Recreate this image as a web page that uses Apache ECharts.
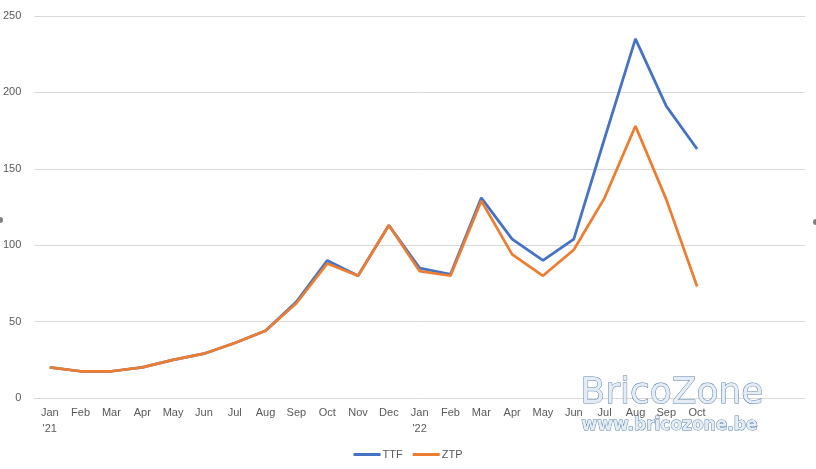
<!DOCTYPE html>
<html>
<head>
<meta charset="utf-8">
<script src="https://cdn.jsdelivr.net/npm/echarts@6/dist/echarts.min.js"></script>
<style>
  html, body { margin: 0; padding: 0; background: #fff; }
  #chart { width: 816px; height: 469px; }
</style>
</head>
<body>
<div id="chart"></div>
<script>
// months Jan '21 .. Oct '22, plus three empty slots on the right
var months = ['Jan\n\'21', 'Feb', 'Mar', 'Apr', 'May', 'Jun', 'Jul', 'Aug', 'Sep', 'Oct', 'Nov', 'Dec',
              'Jan\n\'22', 'Feb', 'Mar', 'Apr', 'May', 'Jun', 'Jul', 'Aug', 'Sep', 'Oct', '', '', ''];
var ttf = [20, 17.5, 17.5, 20, 25, 29, 36, 44, 63, 90, 80, 113,
           85, 81, 131, 104, 90, 104, 170, 235, 191, 163];
var ztp = [20, 17.5, 17.5, 20, 25, 29, 36, 44, 62, 88, 80, 113,
           83, 80, 129, 94, 80, 97, 131, 178, 130, 73];

var chart = echarts.init(document.getElementById('chart'));
var txt = '#595959';

var option = {
    animation: false,
    grid: { left: 33, right: 11, top: 16, bottom: 71, containLabel: false },
    legend: {
        bottom: 4,
        left: 'center',
        itemWidth: 27,
        itemHeight: 3,
        itemGap: 10,
        icon: 'rect',
        textStyle: { color: txt, fontSize: 11, fontFamily: 'Liberation Sans', padding: [0, 0, 0, -3] },
        data: ['TTF', 'ZTP']
    },
    xAxis: {
        type: 'category',
        data: months,
        boundaryGap: true,
        axisLine: { lineStyle: { color: '#d9d9d9' } },
        axisTick: { show: false },
        axisLabel: {
            color: txt, fontSize: 11, fontFamily: 'Liberation Sans',
            interval: 0, margin: 7, lineHeight: 16
        }
    },
    yAxis: {
        type: 'value',
        min: 0, max: 250, interval: 50,
        axisLine: { show: false },
        axisTick: { show: false },
        splitLine: { lineStyle: { color: '#d9d9d9' } },
        axisLabel: { color: txt, fontSize: 11, fontFamily: 'Liberation Sans', margin: 13 }
    },
    series: [{
        name: 'TTF',
        type: 'line',
        data: ttf,
        showSymbol: false,
        itemStyle: { color: '#4472c4' },
        lineStyle: { width: 2.75, color: '#4472c4' }
    }, {
        name: 'ZTP',
        type: 'line',
        data: ztp,
        showSymbol: false,
        itemStyle: { color: '#ed7d31' },
        lineStyle: { width: 2.75, color: '#ed7d31' }
    }],
    graphic: [{
        type: 'text',
        left: 580, top: 375,
        z: 100,
        style: {
            text: 'BricoZone',
            font: '36px "DejaVu Sans"',
            fill: '#e4edf6',
            stroke: '#5a80a8',
            lineWidth: 1
        }
    }, {
        type: 'text',
        left: 581, top: 417,
        z: 100,
        style: {
            text: 'www.bricozone.be',
            font: 'bold 17px "DejaVu Sans"',
            fill: '#e4edf6',
            stroke: '#5a80a8',
            lineWidth: 1
        }
    }, {
        type: 'circle',
        shape: { cx: 0, cy: 220, r: 3 },
        style: { fill: '#7f7f7f' }
    }, {
        type: 'circle',
        shape: { cx: 816, cy: 222, r: 3 },
        style: { fill: '#7f7f7f' }
    }]
};

chart.setOption(option);
</script>
</body>
</html>
